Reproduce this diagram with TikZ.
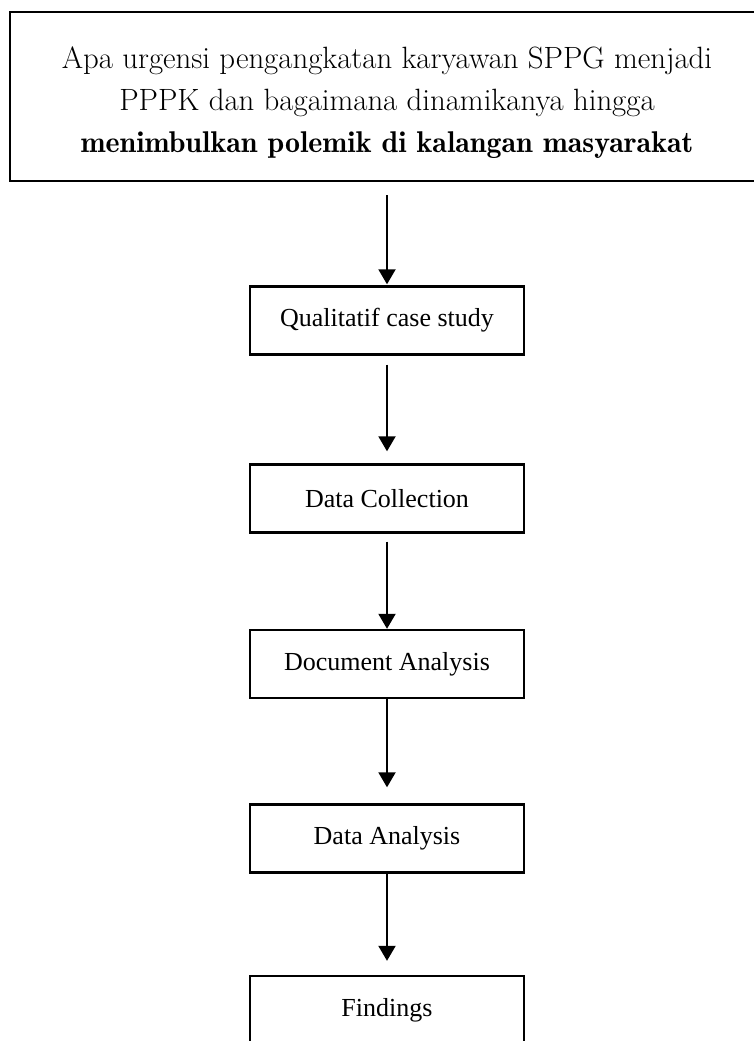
\documentclass[tikz,border=0pt]{standalone}
\usepackage{fontspec}
\newfontfamily\boxfont{Liberation Serif}
\newfontfamily\headfont{lmroman17-regular}[Extension=.otf, BoldFont=lmromandemi10-regular]
\usetikzlibrary{arrows.meta,positioning}

\begin{document}
\begin{tikzpicture}[x=1pt, y=-1pt,
  stepbox/.style={draw, line width=2.4pt, minimum width=274pt, minimum height=68pt,
    inner sep=0pt, font=\boxfont\fontsize{26}{30}\selectfont},
  flow/.style={line width=2pt, -{Triangle[width=17pt,length=15pt]}}]
  \useasboundingbox (0,0) rectangle (754,1041);
  % research question
  \node[draw, line width=2.6pt, minimum width=754pt, minimum height=169pt] (question) at (387,96.5) {};
  \node[align=center, font=\headfont\fontsize{30.8}{42}\selectfont] (qtext) at (387,103)
    {Apa urgensi pengangkatan karyawan SPPG menjadi\\
     PPPK dan bagaimana dinamikanya hingga\\
     {\fontsize{30}{42}\selectfont\bfseries menimbulkan polemik di kalangan masyarakat}};
  % method steps
  \foreach \name/\y/\txt in {qual/320.5/Qualitatif case study, collect/498.5/Data Collection,
      docs/664/Document Analysis, analysis/838.5/Data Analysis, findings/1010/Findings}
    \node[stepbox] (\name) at (387,\y) {\txt};
  \foreach \from/\to/\gapa/\gapb in {question/qual/13/1, qual/collect/9/12, collect/docs/8/0,
      docs/analysis/0/16, analysis/findings/0/14}
    \draw[flow, shorten <=\gapa pt, shorten >=\gapb pt] (\from) -- (\to);
\end{tikzpicture}
\end{document}
